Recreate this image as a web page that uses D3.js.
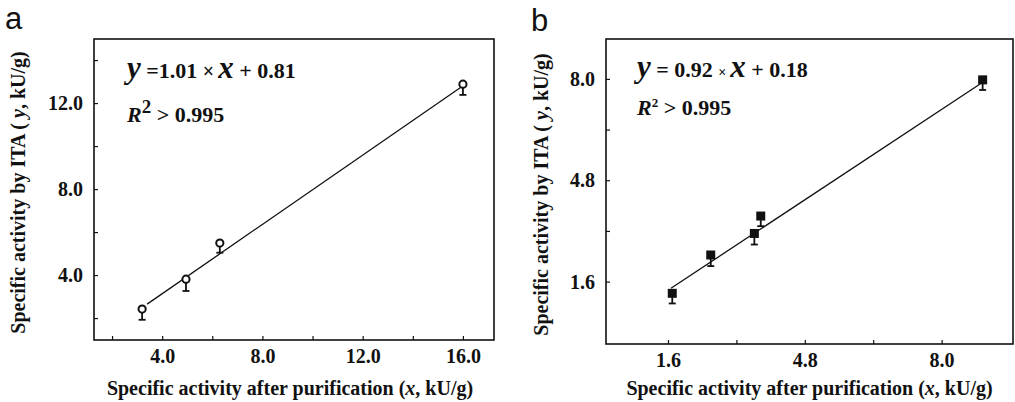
<!DOCTYPE html>
<html>
<head>
<meta charset="utf-8">
<script src="https://cdn.jsdelivr.net/npm/d3@7"></script>
<style>
  body { margin: 0; background: #fff; }
</style>
</head>
<body>
<svg id="chart" width="1015" height="402"></svg>
<script>
'use strict';
const SERIF = "'Liberation Serif', 'Times New Roman', serif";
// panel a
let aX = [3.2, 4.95, 6.3, 16.0];
let aY = [2.42, 3.81, 5.49, 12.88];
let aErr = [0.5, 0.55, 0.45, 0.5];
let aFit = [[3.4, 2.65], [15.92, 12.74]];
let aTickX = [2, 4, 6, 8, 10, 12, 14, 16];
let aTickY = [2, 4, 6, 8, 10, 12, 14];
let aLabX = [4, 8, 12, 16];
let aLabY = [4, 8, 12];

// panel b
let bX = [1.7, 2.6, 3.62, 3.77, 8.96];
let bY = [1.23, 2.44, 3.12, 3.67, 7.97];
let bErr = [0.32, 0.35, 0.35, 0.32, 0.32];
let bFit = [[1.67, 1.39], [8.9, 7.84]];
let bTickX = [1.6, 3.2, 4.8, 6.4, 8.0];
let bTickY = [1.6, 3.2, 4.8, 6.4, 8.0];
let bLabX = [1.6, 4.8, 8.0];
let bLabY = [1.6, 4.8, 8.0];

let svg = d3.select("#chart");

function drawPanel(p) {
    let g = svg.append("g");
    let x = d3.scaleLinear().domain(p.xDom).range([p.left, p.right]);
    let y = d3.scaleLinear().domain(p.yDom).range([p.bottom, p.top]);

    let xa = g.append("g")
        .attr("transform", "translate(0," + p.bottom + ")")
        .call(d3.axisBottom(x).tickValues(p.tickX).tickSize(-4).tickPadding(9)
            .tickFormat(d => p.labX.includes(d) ? d3.format(".1f")(d) : ""));
    let ya = g.append("g")
        .attr("transform", "translate(" + p.left + ",0)")
        .call(d3.axisLeft(y).tickValues(p.tickY).tickSize(-4).tickPadding(11)
            .tickFormat(d => p.labY.includes(d) ? d3.format(".1f")(d) : ""));
    [xa, ya].forEach(a => {
        a.attr("font-family", SERIF);
        a.select(".domain").remove();
        a.selectAll("line").attr("stroke", "#111").attr("stroke-width", 1.2);
        a.selectAll("text").style("font-family", SERIF).style("font-weight", "bold")
            .style("font-size", "20px").attr("fill", "#111");
    });

    g.append("rect")
        .attr("x", p.left).attr("y", p.top)
        .attr("width", p.right - p.left).attr("height", p.bottom - p.top)
        .attr("fill", "none").attr("stroke", "#111").attr("stroke-width", 1.6);

    g.append("line")
        .attr("x1", x(p.fit[0][0])).attr("y1", y(p.fit[0][1]))
        .attr("x2", x(p.fit[1][0])).attr("y2", y(p.fit[1][1]))
        .attr("stroke", "#111").attr("stroke-width", 1.3);

    let pts = p.xs.map((v, i) => ({x: v, y: p.ys[i], e: p.err[i]}));
    let pg = g.selectAll(".pt").data(pts).enter().append("g").attr("class", "pt");
    pg.append("line")
        .attr("x1", d => x(d.x)).attr("x2", d => x(d.x))
        .attr("y1", d => y(d.y)).attr("y2", d => y(d.y - d.e))
        .attr("stroke", "#111").attr("stroke-width", 1.8);
    pg.append("line")
        .attr("x1", d => x(d.x) - 3.5).attr("x2", d => x(d.x) + 3.5)
        .attr("y1", d => y(d.y - d.e)).attr("y2", d => y(d.y - d.e))
        .attr("stroke", "#111").attr("stroke-width", 1.8);
    if (p.marker === "circle") {
        pg.append("circle")
            .attr("cx", d => x(d.x)).attr("cy", d => y(d.y)).attr("r", 3.6)
            .attr("fill", "#fff").attr("stroke", "#111").attr("stroke-width", 2);
    } else {
        pg.append("rect")
            .attr("x", d => x(d.x) - 4.5).attr("y", d => y(d.y) - 4.5)
            .attr("width", 9).attr("height", 9).attr("fill", "#111");
    }

    // axis titles
    let xt = g.append("text")
        .attr("x", (p.left + p.right) / 2 + p.xtShift).attr("y", 395)
        .attr("text-anchor", "middle").attr("fill", "#111")
        .style("font-family", SERIF).style("font-weight", "bold").style("font-size", "20px");
    xt.append("tspan").text("Specific activity after purification (");
    xt.append("tspan").style("font-style", "italic").text("x");
    xt.append("tspan").text(", kU/g)");

    let yt = g.append("text")
        .attr("transform", "translate(" + p.ytX + "," + ((p.top + p.bottom) / 2 + p.ytShift) + ") rotate(-90)")
        .attr("text-anchor", "middle").attr("fill", "#111")
        .style("font-family", SERIF).style("font-weight", "bold").style("font-size", "20px");
    yt.append("tspan").text("Specific activity by ITA (" + p.ySpace);
    yt.append("tspan").style("font-style", "italic").text("y");
    yt.append("tspan").text(", kU/g)");

    // equation
    let eq = g.append("text").attr("x", p.eqX).attr("y", p.eqY).attr("fill", "#111")
        .style("font-family", SERIF).style("font-weight", "bold").style("font-size", "22px");
    eq.append("tspan").style("font-style", "italic").style("font-size", "31px").text("y");
    eq.append("tspan").text(p.eq1);
    eq.append("tspan").style("font-size", p.timesSize).text("×");
    eq.append("tspan").style("font-style", "italic").style("font-size", "31px")
        .attr("dx", 4).text("x");
    eq.append("tspan").text(p.eq2);

    let r2 = g.append("text").attr("x", p.eqX).attr("y", p.r2Y).attr("fill", "#111")
        .style("font-family", SERIF).style("font-weight", "bold").style("font-size", "22px");
    r2.append("tspan").style("font-style", "italic").text("R");
    r2.append("tspan").style("font-size", p.supSize).attr("dy", p.supDy).text("2");
    r2.append("tspan").attr("dy", -p.supDy).text(p.r2txt);

    g.append("text").attr("x", p.lab[0]).attr("y", p.lab[1]).attr("fill", "#111")
        .style("font-family", "'Liberation Sans', Arial, sans-serif").style("font-size", "31px")
        .text(p.name);
}

drawPanel({
    name: "a", lab: [5, 29],
    left: 94, right: 494, top: 39, bottom: 340,
    xDom: [1.28, 17.24], yDom: [0.98, 14.98],
    tickX: aTickX, tickY: aTickY, labX: aLabX, labY: aLabY,
    xs: aX, ys: aY, err: aErr, fit: aFit, marker: "circle",
    xtShift: -4, ytX: 25, ytShift: 3, ySpace: " ",
    eqX: 127, eqY: 78, r2Y: 122, eq1: " =1.01 ", eq2: " + 0.81", timesSize: "20px",
    supSize: "19px", supDy: -9, r2txt: " > 0.995"
});

drawPanel({
    name: "b", lab: [531, 31],
    left: 606, right: 1013, top: 39, bottom: 344,
    xDom: [0.15, 9.67], yDom: [-0.37, 9.26],
    tickX: bTickX, tickY: bTickY, labX: bLabX, labY: bLabY,
    xs: bX, ys: bY, err: bErr, fit: bFit, marker: "square",
    xtShift: 0, ytX: 548, ytShift: 3, ySpace: " ",
    eqX: 637, eqY: 77, r2Y: 115, eq1: " = 0.92 ", eq2: " + 0.18", timesSize: "14px",
    supSize: "13px", supDy: -8, r2txt: " > 0.995"
});
</script>
</body>
</html>
